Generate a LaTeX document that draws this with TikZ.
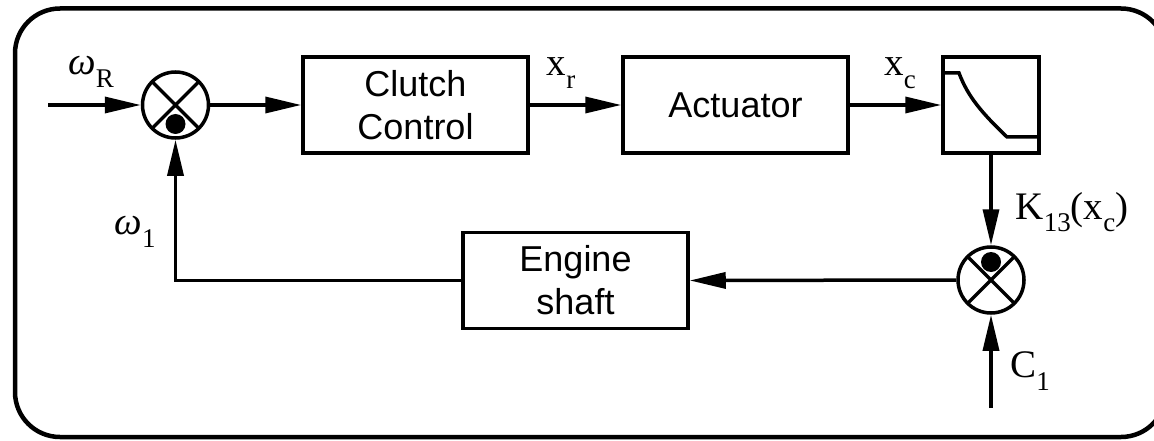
\documentclass[tikz,border=0pt]{standalone}
\usepackage{fontspec}
\setmainfont{Liberation Serif}
\newfontfamily\arialf{Liberation Sans}
\usetikzlibrary{arrows.meta}
\newcommand{\lowsub}[1]{\raisebox{-0.32em}{\fontsize{27}{30}\selectfont #1}}
\tikzset{
  blk/.style={draw, line width=3.5pt, minimum width=225pt, minimum height=96pt,
    font=\arialf\fontsize{36}{43}\selectfont, align=center, inner sep=0pt},
  sumj/.style={draw, circle, line width=3.5pt, minimum size=66pt, inner sep=0pt,
    path picture={\draw[line width=3.5pt] (path picture bounding box.north west) -- (path picture bounding box.south east)
      (path picture bounding box.north east) -- (path picture bounding box.south west);}},
  flow/.style={line width=3.5pt, -{Triangle[length=36pt,width=16pt]}},
  lbl/.style={font=\fontsize{39}{42}\selectfont, inner sep=0pt},
}
\begin{document}
\begin{tikzpicture}[x=1pt,y=-1pt]
\useasboundingbox (0,0) rectangle (1154,441);
\draw[line width=4.5pt, rounded corners=45pt] (15,8.5) rectangle (1166,437);
\node[sumj] (s1) at (175.5,105) {};
\fill ([yshift=-19pt]s1.center) circle (10pt);
\node[blk] (cc) at (415.5,105) {Clutch\\Control};
\node[blk] (act) at (735.5,105) {Actuator};
\node[draw, line width=3.5pt, minimum width=96pt, minimum height=96pt, inner sep=0pt] (flt) at (991,105) {};
\draw[line width=3.5pt] (flt.west |- 0,73) -- (959,73) .. controls (968,97) and (982,113) .. (1007,137) -- (flt.east |- 0,137);
\node[sumj] (s2) at (991,280) {};
\fill ([yshift=18pt]s2.center) circle (10pt);
\node[blk] (eng) at (575.5,280.5) {Engine\\shaft};
\coordinate (in) at (48,105);
\coordinate (c1in) at (991,408);
\draw[flow] (in) -- (s1.west);
\draw[flow] (s1.east) -- (cc.west);
\draw[flow] (cc.east) -- (act.west);
\draw[flow] (act.east) -- (flt.west);
\draw[flow] (flt.south) -- (s2.north);
\draw[flow] (s2.west) -- (eng.east);
\draw[flow] (eng.west) -| (s1.south);
\draw[flow] (c1in) -- (s2.south);
\node[lbl] (lwr) at (91,72) {\textit{ω}\lowsub{R}};
\node[lbl] (lxr) at (561,73) {x\lowsub{r}};
\node[lbl] (lxc) at (900,73) {x\lowsub{c}};
\node[lbl] (lk) at (1072,212) {K\lowsub{13}(x\lowsub{c})};
\node[lbl] (lw1) at (135,232) {\textit{ω}\lowsub{1}};
\node[lbl] (lc1) at (1030,371) {C\lowsub{1}};
\end{tikzpicture}
\end{document}
